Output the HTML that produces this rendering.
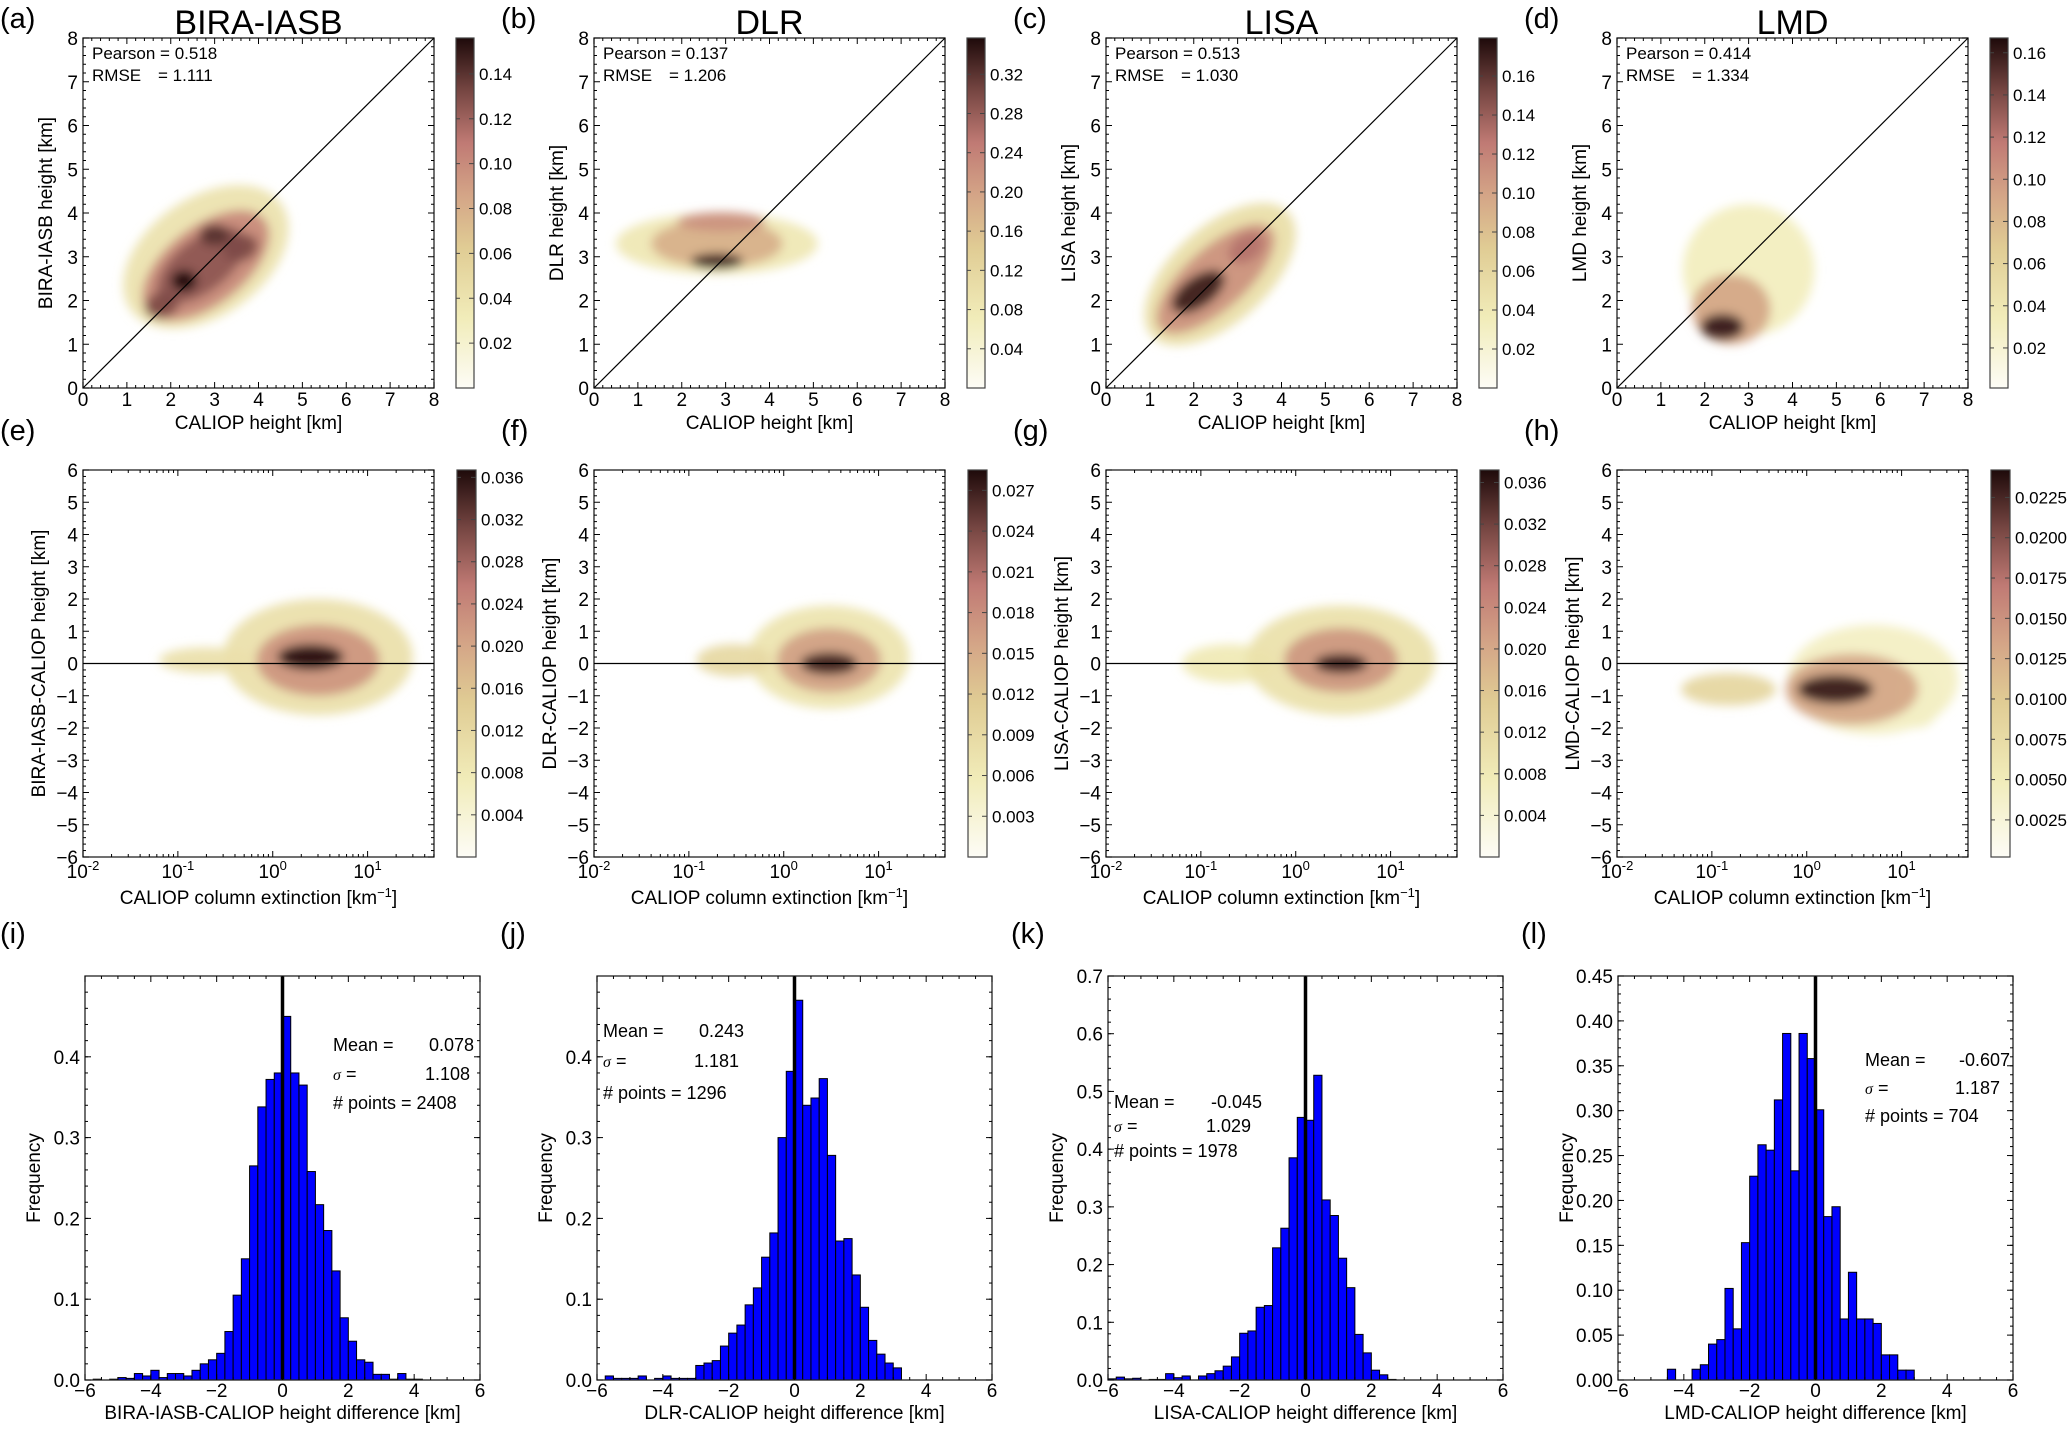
<!DOCTYPE html>
<html><head><meta charset="utf-8"><style>
html,body{margin:0;padding:0;background:#fff;}
svg{display:block;font-family:"Liberation Sans","DejaVu Sans",sans-serif;}
</style></head><body>
<svg id="fig" width="2067" height="1430" viewBox="0 0 2067 1430" xmlns="http://www.w3.org/2000/svg">
<defs>
<filter id="blur" x="-50%" y="-50%" width="200%" height="200%"><feGaussianBlur stdDeviation="5"/></filter>
</defs>
</svg>
<script>
// ---------- data ----------
const titles = ["BIRA-IASB","DLR","LISA","LMD"];
const pearson = ["0.518","0.137","0.513","0.414"];
const rmse = ["1.111","1.206","1.030","1.334"];
const meanVals = ["0.078","0.243","-0.045","-0.607"];
const sigmaVals = ["1.108","1.181","1.029","1.187"];
const nPoints = ["2408","1296","1978","704"];
// blobs: [x, y, rx, ry, rotationDeg, densityValue]  (row1 in km; row2 x = extinction, rx in decades)
const blobsA = [[2.8,3.0,2.1,1.35,35,0.04],[2.8,2.8,1.7,0.9,38,0.10],[2.7,2.8,1.2,0.6,38,0.125],[2.3,2.45,0.3,0.25,0,0.155],[3.0,3.5,0.35,0.25,0,0.14],[3.6,3.2,0.4,0.3,20,0.13],[1.8,1.9,0.4,0.3,20,0.13]];
const blobsB = [[2.8,3.3,2.3,0.7,0,0.08],[2.8,3.3,1.5,0.55,0,0.18],[2.9,3.8,1.0,0.22,0,0.22],[2.8,2.9,0.6,0.18,0,0.34]];
const blobsC = [[2.6,2.6,2.1,1.1,42,0.05],[2.5,2.5,1.7,0.7,42,0.11],[2.1,2.2,0.7,0.35,35,0.17],[3.2,3.2,0.45,0.3,35,0.13]];
const blobsD = [[3.0,2.7,1.5,1.5,0,0.03],[2.6,1.8,0.9,0.8,0,0.09],[2.4,1.4,0.5,0.3,0,0.16]];
const blobsE = [[3,0.2,1.0,1.8,0,0.01],[0.2,0.1,0.5,0.4,0,0.01],[3,0.1,0.65,1.1,0,0.022],[2.5,0.2,0.35,0.4,0,0.036]];
const blobsF = [[3,0.2,0.85,1.6,0,0.007],[0.3,0.1,0.4,0.5,0,0.009],[3,0.1,0.55,1.0,0,0.016],[3,0.0,0.3,0.35,0,0.027]];
const blobsG = [[3,0.1,1.0,1.7,0,0.01],[0.2,0.0,0.5,0.6,0,0.008],[3,0.1,0.6,1.0,0,0.022],[3,0.0,0.28,0.3,0,0.036]];
const blobsH = [[5,-0.5,0.9,1.7,0,0.004],[15,-1,0.25,1.0,0,0.004],[0.15,-0.8,0.5,0.5,0,0.008],[3,-0.8,0.7,1.1,0,0.013],[2,-0.8,0.4,0.45,0,0.023]];
const cbMax1 = [0.156,0.357,0.1795,0.167];
const cbMin1 = [0,0,0,0.001];
const cbTicks1 = [[0.02,0.04,0.06,0.08,0.10,0.12,0.14],[0.04,0.08,0.12,0.16,0.20,0.24,0.28,0.32],[0.02,0.04,0.06,0.08,0.10,0.12,0.14,0.16],[0.02,0.04,0.06,0.08,0.10,0.12,0.14,0.16]];
const cbLabels1 = [["0.02","0.04","0.06","0.08","0.10","0.12","0.14"],["0.04","0.08","0.12","0.16","0.20","0.24","0.28","0.32"],["0.02","0.04","0.06","0.08","0.10","0.12","0.14","0.16"],["0.02","0.04","0.06","0.08","0.10","0.12","0.14","0.16"]];
const cbMax2 = [0.0367,0.0285,0.0372,0.0242];
const cbMin2 = [0,0,0,0.0002];
const cbTicks2 = [[0.004,0.008,0.012,0.016,0.020,0.024,0.028,0.032,0.036],[0.003,0.006,0.009,0.012,0.015,0.018,0.021,0.024,0.027],[0.004,0.008,0.012,0.016,0.020,0.024,0.028,0.032,0.036],[0.0025,0.005,0.0075,0.01,0.0125,0.015,0.0175,0.02,0.0225]];
const cbLabels2 = [["0.004","0.008","0.012","0.016","0.020","0.024","0.028","0.032","0.036"],["0.003","0.006","0.009","0.012","0.015","0.018","0.021","0.024","0.027"],["0.004","0.008","0.012","0.016","0.020","0.024","0.028","0.032","0.036"],["0.0025","0.0050","0.0075","0.0100","0.0125","0.0150","0.0175","0.0200","0.0225"]];
const histI = [0,0.001,0,0.001,0.003,0.002,0.008,0.005,0.012,0.003,0.008,0.008,0.005,0.012,0.02,0.025,0.033,0.06,0.105,0.15,0.265,0.338,0.372,0.38,0.45,0.38,0.365,0.258,0.217,0.185,0.135,0.077,0.048,0.025,0.022,0.007,0.007,0.001,0.008,0.001,0.001,0,0,0,0,0,0,0];
const histJ = [0,0.005,0.002,0.002,0.002,0.005,0,0.002,0.005,0.002,0.002,0.002,0.018,0.021,0.024,0.042,0.058,0.068,0.093,0.114,0.152,0.182,0.3,0.382,0.47,0.34,0.349,0.373,0.278,0.172,0.175,0.13,0.09,0.049,0.032,0.021,0.015,0,0,0,0,0,0,0,0,0,0,0];
const histK = [0.002,0.005,0.002,0.003,0,0.001,0.001,0.011,0.004,0.007,0,0.007,0.011,0.016,0.024,0.04,0.081,0.085,0.126,0.129,0.229,0.263,0.385,0.455,0.45,0.528,0.312,0.285,0.211,0.16,0.079,0.047,0.017,0.009,0.001,0,0,0,0,0,0,0,0,0,0,0,0,0];
const histL = [0,0,0,0,0,0,0.012,0,0,0.012,0.017,0.04,0.045,0.102,0.057,0.153,0.227,0.262,0.256,0.312,0.386,0.233,0.386,0.358,0.301,0.182,0.193,0.068,0.12,0.068,0.068,0.063,0.028,0.028,0.011,0.011,0,0,0,0,0,0,0,0,0,0,0,0];
const histYMax = [0.5,0.5,0.7,0.45];
const histYTicks = [[0,0.1,0.2,0.3,0.4],[0,0.1,0.2,0.3,0.4],[0,0.1,0.2,0.3,0.4,0.5,0.6,0.7],[0,0.05,0.1,0.15,0.2,0.25,0.3,0.35,0.4,0.45]];
const histYLabels = [["0.0","0.1","0.2","0.3","0.4"],["0.0","0.1","0.2","0.3","0.4"],["0.0","0.1","0.2","0.3","0.4","0.5","0.6","0.7"],["0.00","0.05","0.10","0.15","0.20","0.25","0.30","0.35","0.40","0.45"]];
const letters1 = ["(a)","(b)","(c)","(d)"], letters2 = ["(e)","(f)","(g)","(h)"], letters3 = ["(i)","(j)","(k)","(l)"];

// ---------- layout ----------
const svg = document.getElementById('fig');
const NS = 'http://www.w3.org/2000/svg';
const colX = [83,594,1106,1617], PW = 351;
const R1 = {t:38,b:388}, R2 = {t:470,b:857};
const histX = [85,597,1108,1618], HW = 395, H3 = {t:976,b:1380};
const stops = [[0,[253,252,246]],[0.2,[241,236,185]],[0.4,[224,204,148]],[0.55,[212,165,135]],[0.7,[192,122,116]],[0.85,[118,70,66]],[1,[30,10,10]]];
function cmap(t){t=Math.max(0,Math.min(1,t));for(let i=1;i<stops.length;i++){if(t<=stops[i][0]){const a=stops[i-1],b=stops[i];const f=(t-a[0])/(b[0]-a[0]);const c=a[1].map((v,k)=>Math.round(v+(b[1][k]-v)*f));return 'rgb('+c.join(',')+')';}}return 'rgb(30,10,10)';}
function mk(tag,attrs,parent){const e=document.createElementNS(NS,tag);for(const k in attrs)e.setAttribute(k,attrs[k]);(parent||svg).appendChild(e);return e;}
function txt(parent,x,y,s,size,anchor,extra){const e=mk('text',Object.assign({x:x,y:y,'font-size':size,'text-anchor':anchor||'start',fill:'#000'},extra||{}),parent);e.textContent=s;return e;}
function line(parent,x1,y1,x2,y2,w,col){return mk('line',{x1:x1,y1:y1,x2:x2,y2:y2,stroke:col||'#000','stroke-width':w||1},parent);}

const defs = svg.querySelector('defs');
const grad = mk('linearGradient',{id:'cbgrad',x1:0,y1:1,x2:0,y2:0},defs);
stops.forEach(s=>mk('stop',{offset:s[0],'stop-color':cmap(s[0])},grad));

function frame(g,L,T,W,H){const r=mk('rect',{x:L,y:T,width:W,height:H,fill:'none',stroke:'#222','stroke-width':1.3},g);}

function colorbar(g,x,T,B,w,min,max,ticks,labels){
  const cb=mk('g',{},g);
  
  
  mk('rect',{x:x,y:T,width:w,height:B-T,fill:'url(#cbgrad)',stroke:'#444','stroke-width':1.2},cb);
  ticks.forEach((v,i)=>{const y=B-(v-min)/(max-min)*(B-T);line(cb,x+w-5,y,x+w,y,1,'#444');line(cb,x,y,x+4,y,1,'#444');
    const t=txt(cb,x+w+5,y+6,labels[i],17);
    
    });
}

function drawBlobs(g,blobs,px,py,sxk,syk,max,clipId){
  const bg=mk('g',{'clip-path':'url(#'+clipId+')'},g);
  const bb=mk('g',{filter:'url(#blur)'},bg);
  
  
  blobs.slice().sort((a,b)=>a[5]-b[5]).forEach(b=>{
    const cx=px(b[0]),cy=py(b[1]);
    const e=mk('ellipse',{cx:cx,cy:cy,rx:b[2]*sxk,ry:b[3]*syk,fill:cmap(b[5]/max),opacity:0.95,transform:'rotate('+(-b[4])+' '+cx+' '+cy+')'},bb);
    
    
  });
}

// ---------- row 1 ----------
const blobs1=[blobsA,blobsB,blobsC,blobsD];
for(let c=0;c<4;c++){
  const L=colX[c],T=R1.t,B=R1.b,W=PW,H=B-T;
  const g=mk('g',{});
  
  
  const px=v=>L+v/8*W, py=v=>B-v/8*H;
  const cp=mk('clipPath',{id:'cp1'+c},defs);mk('rect',{x:L,y:T,width:W,height:H},cp);
  drawBlobs(g,blobs1[c],px,py,W/8,H/8,cbMax1[c],'cp1'+c);
  const d=line(g,px(0),py(0),px(8),py(8),1.2,'#000');
  
  
  frame(g,L,T,W,H);
  for(let v=0;v<=8;v++){
    line(g,px(v),B,px(v),B-6);line(g,px(v),T,px(v),T+6);line(g,L,py(v),L+6,py(v));line(g,L+W,py(v),L+W-6,py(v));
    const xl=txt(g,px(v),406,String(v),19,'middle');
    
    
    const yl=txt(g,L-5,py(v)+7,String(v),19,'end');
    
    
    if(v<8)for(let m=1;m<5;m++){const vv=v+m/5;line(g,px(vv),B,px(vv),B-3);line(g,px(vv),T,px(vv),T+3);line(g,L,py(vv),L+3,py(vv));line(g,L+W,py(vv),L+W-3,py(vv));}
  }
  const xt=txt(g,L+W/2,429,'CALIOP height [km]',19,'middle');
  
  
  const yt=txt(g,0,0,titles[c]+' height [km]',19,'middle',{transform:'translate('+(L-31)+','+(T+H/2)+') rotate(-90)'});
  
  
  const p=txt(g,L+9,59,'Pearson = '+pearson[c],17);
  
  
  const r=txt(g,L+9,81,'RMSE',17);
  
  
  txt(g,L+75,81,'= '+rmse[c],17);
  const ti=txt(g,L+W/2,34,titles[c],34,'middle');
  
  
  const le=txt(g,L-83+(c==0?0:-10),28,letters1[c],29);
  
  
  colorbar(g,L+W+22,T,B,18,cbMin1[c],cbMax1[c],cbTicks1[c],cbLabels1[c]);
}

// ---------- row 2 ----------
const blobs2=[blobsE,blobsF,blobsG,blobsH];
const prefixes=["BIRA-IASB","DLR","LISA","LMD"];
const decades=3.7;
for(let c=0;c<4;c++){
  const L=colX[c],T=R2.t,B=R2.b,W=PW,H=B-T;
  const g=mk('g',{});
  
  
  const px=v=>L+(Math.log10(v)+2)/decades*W, py=v=>B-(v+6)/12*H;
  const cp=mk('clipPath',{id:'cp2'+c},defs);mk('rect',{x:L,y:T,width:W,height:H},cp);
  drawBlobs(g,blobs2[c],px,py,W/decades,H/12,cbMax2[c],'cp2'+c);
  const z=line(g,L,py(0),L+W,py(0),1.2,'#000');
  
  
  frame(g,L,T,W,H);
  for(let v=-6;v<=6;v++){
    line(g,L,py(v),L+6,py(v));line(g,L+W,py(v),L+W-6,py(v));
    if(v<6)for(let m=1;m<5;m++){const vv=v+m/5;line(g,L,py(vv),L+3,py(vv));line(g,L+W,py(vv),L+W-3,py(vv));}
    const yl=txt(g,L-5,py(v)+7,(v<0?'\u2212':'')+Math.abs(v),19,'end');
    
    
  }
  for(let e=-2;e<=1;e++){
    const x=px(Math.pow(10,e));
    line(g,x,B,x,B-6);line(g,x,T,x,T+6);
    const t=mk('text',{x:x,y:878,'font-size':19,'text-anchor':'middle'},g);
    
    
    t.textContent='10';
    const s=mk('tspan',{dy:-8,'font-size':13},t);s.textContent=(e<0?'-':'')+Math.abs(e);
    for(let m=2;m<=9;m++){const xm=px(m*Math.pow(10,e));if(xm<=L+W){line(g,xm,B,xm,B-3);line(g,xm,T,xm,T+3);}}
  }
  const xt=mk('text',{x:L+W/2,y:904,'font-size':19,'text-anchor':'middle'},g);
  
  
  xt.textContent='CALIOP column extinction [km';
  const sup=mk('tspan',{dy:-7,'font-size':13},xt);sup.textContent='\u22121';
  const cl=mk('tspan',{dy:7},xt);cl.textContent=']';
  const yt=txt(g,0,0,prefixes[c]+'-CALIOP height [km]',19,'middle',{transform:'translate('+(L-38)+','+(T+H/2)+') rotate(-90)'});
  
  
  const le=txt(g,L-83+(c==0?0:-10),440,letters2[c],29);
  
  
  colorbar(g,L+W+23,T,B,19,cbMin2[c],cbMax2[c],cbTicks2[c],cbLabels2[c]);
}

// ---------- row 3 ----------
const hists=[histI,histJ,histK,histL];
const annX=[[333,474,470],[603,744,739],[1114,1262,1251],[1865,2010,2000]];
const annY=[[1045,1074,1103],[1031,1061,1093],[1102,1126,1151],[1060,1088,1116]];
for(let c=0;c<4;c++){
  const L=histX[c],T=H3.t,B=H3.b,W=HW,H=B-T,ymax=histYMax[c];
  const g=mk('g',{});
  
  
  const px=v=>L+(v+6)/12*W, py=v=>B-v/ymax*H;
  hists[c].forEach((v,i)=>{
    if(v<=0)return;
    const x0=-6+i*0.25;
    const r=mk('rect',{x:px(x0),y:py(v),width:px(x0+0.25)-px(x0),height:B-py(v),fill:'#0000ff',stroke:'#000','stroke-width':1},g);
    
    
  });
  const z=line(g,px(0),T,px(0),B,3.5,'#000');
  
  
  frame(g,L,T,W,H);
  for(let v=-6;v<=6;v+=2){
    line(g,px(v),B,px(v),B-6);line(g,px(v),T,px(v),T+6);
    const xl=txt(g,px(v),1397,(v<0?'\u2212':'')+Math.abs(v),19,'middle');
    
    
  }
  for(let v=-6;v<6;v+=0.5){if(v%2!==0){line(g,px(v),B,px(v),B-3);line(g,px(v),T,px(v),T+3);}}
  histYTicks[c].forEach((v,i)=>{
    line(g,L,py(v),L+6,py(v));line(g,L+W,py(v),L+W-6,py(v));
    const yl=txt(g,L-5,py(v)+7,histYLabels[c][i],19,'end');
    
    
  });
  const step=histYTicks[c][1]/5;
  for(let v=step;v<ymax;v+=step){line(g,L,py(v),L+3,py(v));line(g,L+W,py(v),L+W-3,py(v));}
  const xt=txt(g,L+W/2,1419,prefixes[c]+'-CALIOP height difference [km]',19,'middle');
  
  
  const yt=txt(g,0,0,'Frequency',19,'middle',{transform:'translate('+(L-45)+','+(T+H/2)+') rotate(-90)'});
  
  
  const ax=annX[c],ay=annY[c];
  const m1=txt(g,ax[0],ay[0]+6,'Mean =',18);
  
  
  txt(g,ax[1],ay[0]+6,meanVals[c],18,'end');
  const s1=txt(g,ax[0],ay[1]+6,'\u03c3',16,'start',{'font-style':'italic','font-family':'Liberation Serif, serif'});
  
  
  txt(g,ax[0]+13,ay[1]+6,'=',18);
  txt(g,ax[2],ay[1]+6,sigmaVals[c],18,'end');
  const n1=txt(g,ax[0],ay[2]+6,'# points = '+nPoints[c],18);
  
  
  const le=txt(g,L-85+(c==0?0:-12),943,letters3[c],29);
  
  
}
</script>
</body></html>
